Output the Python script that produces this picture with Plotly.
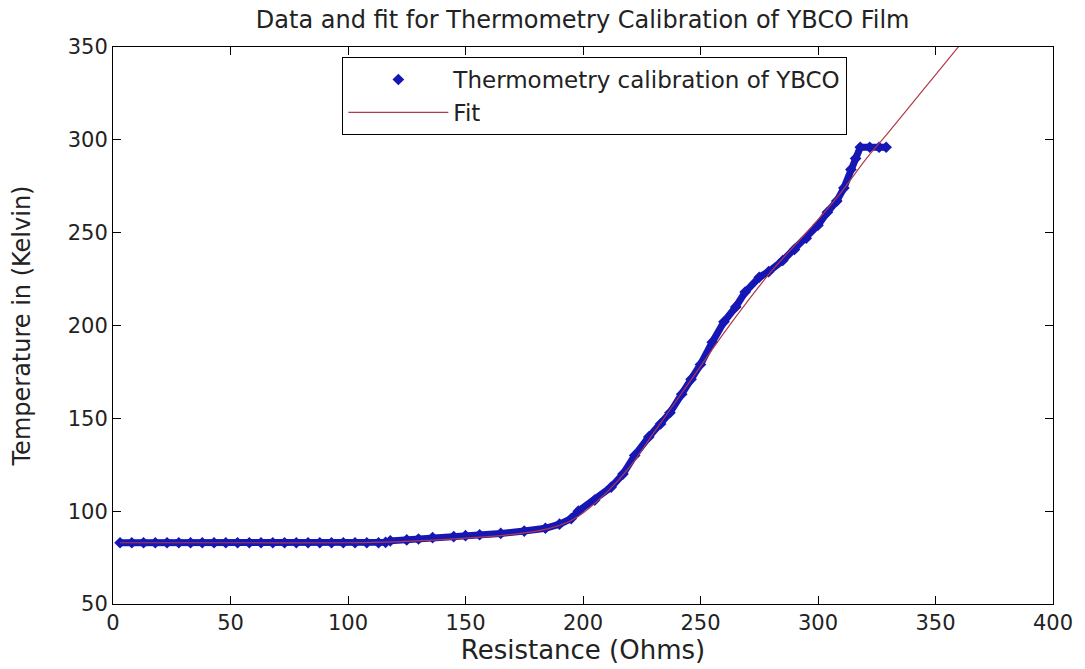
import plotly.graph_objects as go

# Measured data: resistance (Ohms) vs temperature (K)
res_data = [3, 8, 13, 18, 23, 28, 33, 38, 43, 48, 53, 58, 63, 68, 73, 78, 83, 88, 93, 98,
            103, 108, 113, 116, 118, 125, 130, 136, 145, 150, 156, 165, 175, 184, 190, 195,
            198, 205, 212, 217, 222, 228, 233, 237, 242, 246, 250, 255, 260, 265, 269, 275,
            279, 285, 290, 295, 300, 304, 308, 311, 314, 316, 318, 322, 326, 329]
temp_data = [83, 83, 83, 83, 83, 83, 83, 83, 83, 83, 83, 83, 83, 83, 83, 83, 83, 83, 83, 83,
             83, 83, 83, 83.2, 84, 84.5, 85, 85.8, 86.3, 86.8, 87.3, 88, 89.3, 90.8, 93, 96,
             100, 106, 113, 120, 130, 140, 147, 153, 163, 171, 179, 191, 202, 210, 218, 226,
             229, 235, 241, 247, 254, 261, 267, 274, 284, 290, 296, 296, 296, 296]

# Fit curve
res_fit = [3, 50, 100, 120, 150, 170, 185, 195, 200, 210, 220, 230, 240, 250, 260, 270,
           280, 290, 300, 310, 320, 330, 340, 350, 360]
temp_fit = [83, 83, 83, 83.5, 85.5, 87.5, 90.5, 95, 99, 110, 124, 142, 160, 178, 196, 213,
            229, 243, 257, 272, 289, 304, 319.5, 335, 350.5]

x_ticks = [0, 50, 100, 150, 200, 250, 300, 350, 400]
y_ticks = [50, 100, 150, 200, 250, 300, 350]

data_color = "#1616b4"
fit_color = "#b03a48"
font_family = "DejaVu Sans"

fig = go.Figure()
fig.add_trace(go.Scatter(x=res_data, y=temp_data, mode="lines",
                         line=dict(color=data_color, width=7),
                         showlegend=False, hoverinfo="skip"))
fig.add_trace(go.Scatter(x=res_data, y=temp_data, mode="markers",
                         marker=dict(symbol="diamond", size=9, color=data_color),
                         name="Thermometry calibration of YBCO"))
fig.add_trace(go.Scatter(x=res_fit, y=temp_fit, mode="lines", line_shape="spline",
                         line=dict(color=fit_color, width=1.2), name="Fit"))

axis_common = dict(showline=True, linecolor="black", linewidth=1, mirror="ticks",
                   ticks="inside", ticklen=8, tickcolor="black", showgrid=False,
                   zeroline=False, tickfont=dict(family=font_family, size=21, color="#222"))

fig.update_layout(
    width=1085, height=669,
    margin=dict(l=113, r=30, t=47, b=61),
    paper_bgcolor="white", plot_bgcolor="white",
    title=dict(text="Data and fit for Thermometry Calibration of YBCO Film",
               x=0.537, xanchor="center", y=1 - 20 / 669, yanchor="middle", yref="container",
               font=dict(family=font_family, size=24, color="#222")),
    xaxis=dict(range=[0, 400], tickvals=x_ticks,
               title=dict(text="Resistance (Ohms)", standoff=4,
                          font=dict(family=font_family, size=26, color="#222")),
               **axis_common),
    yaxis=dict(range=[50, 350], tickvals=y_ticks,
               title=dict(text="Temperature in (Kelvin)", standoff=30,
                          font=dict(family=font_family, size=24, color="#222")),
               **axis_common),
    legend=dict(x=0.244, y=0.982, xanchor="left", yanchor="top",
                bgcolor="white", bordercolor="black", borderwidth=1,
                font=dict(family=font_family, size=23, color="#222"),
                itemwidth=100, entrywidth=440, tracegroupgap=0),
)

fig.write_html("out.html")
